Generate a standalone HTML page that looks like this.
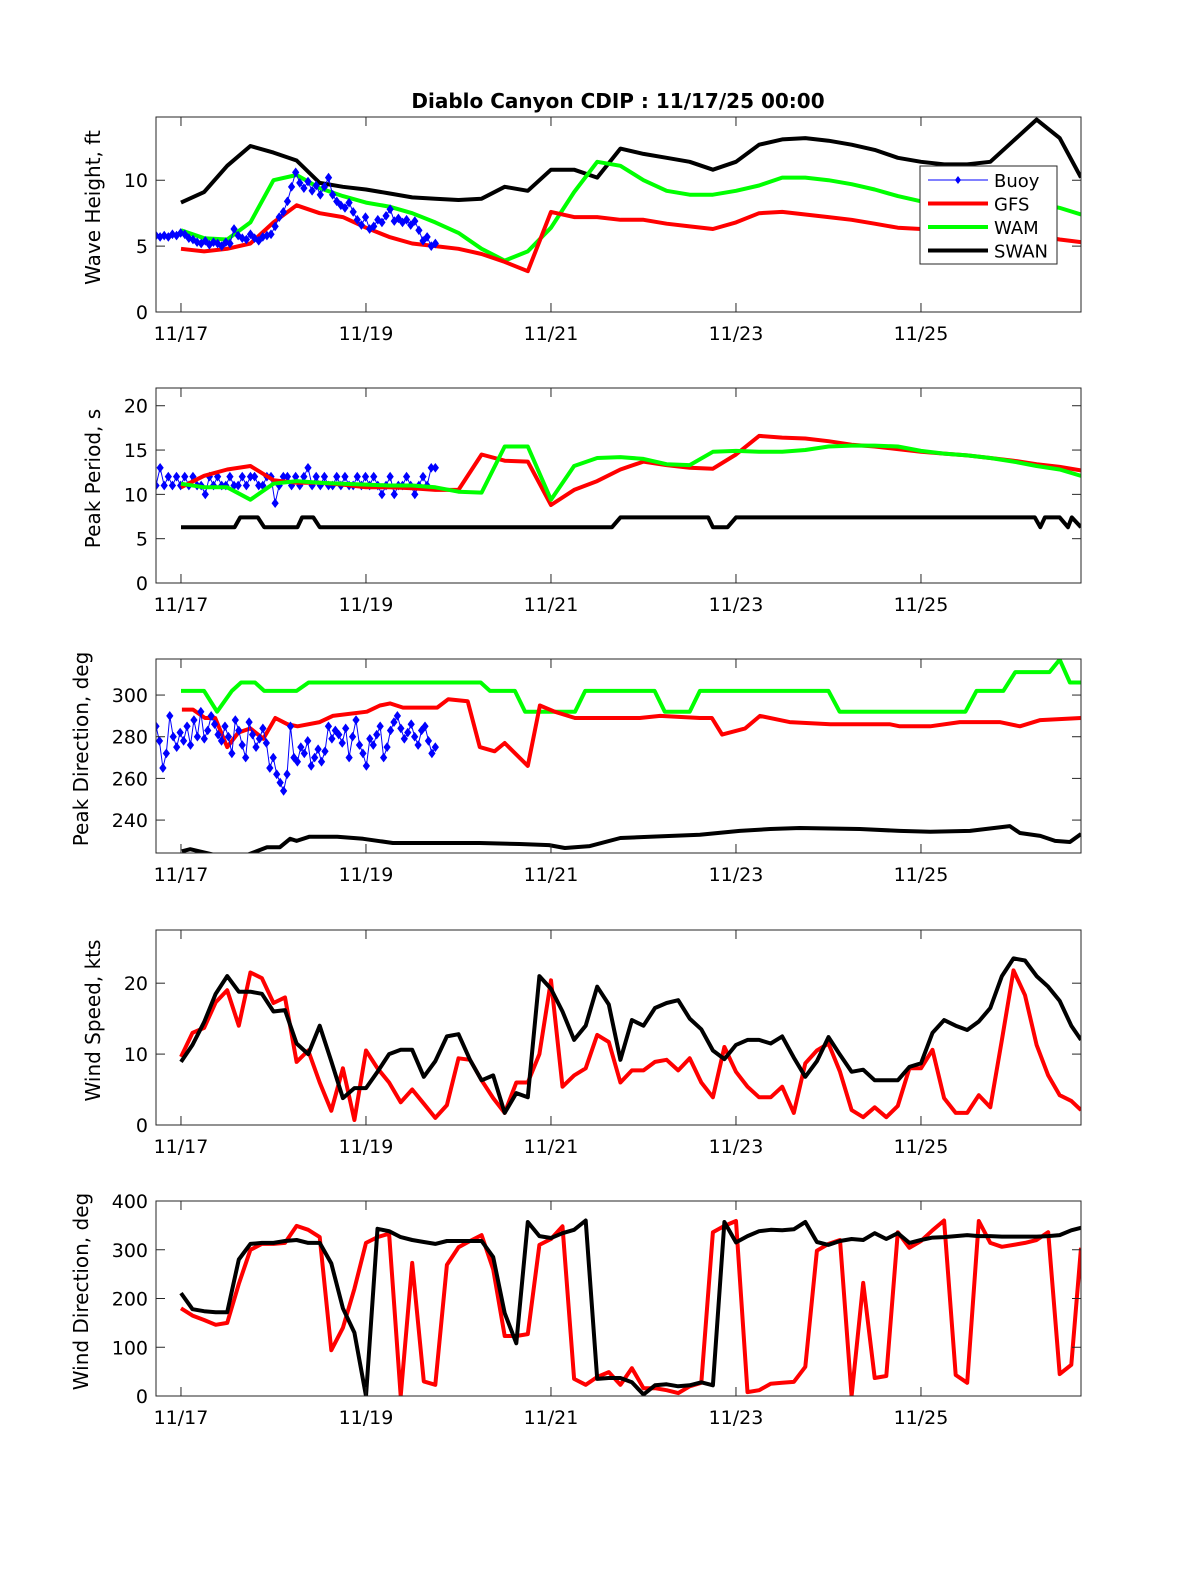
<!DOCTYPE html>
<html><head><meta charset="utf-8"><style>
html,body{margin:0;padding:0;background:#fff}
svg{display:block}
text{font-family:"DejaVu Sans","Liberation Sans",sans-serif;fill:#000}
</style></head><body>
<svg id="chart" width="1200" height="1575" viewBox="0 0 1200 1575" xmlns="http://www.w3.org/2000/svg">
<rect x="0" y="0" width="1200" height="1575" fill="#fff"/>
<text x="618" y="108" text-anchor="middle" font-size="20" font-weight="bold">Diablo Canyon CDIP : 11/17/25 00:00</text>
</svg>
<script>
// ---- data (days since 11/17 00:00) ----
const xTickDays = [0, 2, 4, 6, 8];
const xTickLabels = ['11/17', '11/19', '11/21', '11/23', '11/25'];

// wave height, ft (6-hourly)
const hsSwan = [8.3,9.1,11.1,12.6,12.1,11.5,9.8,9.5,9.3,9.0,8.7,8.6,8.5,8.6,9.5,9.2,10.8,10.8,10.2,12.4,12.0,11.7,11.4,10.8,11.4,12.7,13.1,13.2,13.0,12.7,12.3,11.7,11.4,11.2,11.2,11.4,13.0,14.6,13.2,10.2];
const hsWam = [6.2,5.6,5.5,6.8,10.0,10.4,9.4,8.8,8.3,8.0,7.5,6.8,6.0,4.8,3.9,4.6,6.4,9.1,11.4,11.1,10.0,9.2,8.9,8.9,9.2,9.6,10.2,10.2,10.0,9.7,9.3,8.8,8.4,8.2,8.1,8.1,8.2,8.3,7.9,7.4];
const hsGfs = [4.8,4.6,4.8,5.2,6.8,8.1,7.5,7.2,6.4,5.7,5.2,5.0,4.8,4.4,3.8,3.1,7.6,7.2,7.2,7.0,7.0,6.7,6.5,6.3,6.8,7.5,7.6,7.4,7.2,7.0,6.7,6.4,6.3,6.1,6.0,6.0,5.9,5.8,5.5,5.3];
const hsBuoy = [5.8,5.7,5.8,5.7,5.9,5.8,6.0,5.9,5.6,5.5,5.3,5.2,5.4,5.1,5.3,5.2,5.0,5.3,5.2,6.3,5.8,5.6,5.5,5.9,5.6,5.4,5.7,5.8,5.9,6.5,7.2,7.6,8.4,9.5,10.6,9.8,9.4,9.9,9.2,9.6,8.9,9.5,10.2,8.9,8.4,8.1,7.9,8.3,7.6,7.0,6.6,7.2,6.3,6.5,7.0,6.8,7.3,7.8,6.9,7.1,6.8,7.0,6.6,6.9,6.2,5.4,5.7,5.0,5.2];

// peak period, s
const tpGfs = [10.8,12.1,12.8,13.2,11.6,11.3,11.3,11.1,10.8,10.8,10.7,10.5,10.5,14.5,13.8,13.7,8.8,10.5,11.5,12.8,13.7,13.3,13.0,12.9,14.5,16.6,16.4,16.3,16.0,15.6,15.4,15.1,14.8,14.6,14.4,14.1,13.8,13.4,13.1,12.7];
const tpWam = [11.2,10.8,10.8,9.4,11.2,11.5,11.3,11.2,11.1,11.0,11.0,10.8,10.3,10.2,15.4,15.4,9.4,13.2,14.1,14.2,14.0,13.4,13.3,14.8,14.9,14.8,14.8,15.0,15.4,15.5,15.5,15.4,14.9,14.6,14.4,14.1,13.7,13.2,12.8,12.1];
const tpSwanDays = [0,0.58,0.64,0.83,0.9,1.26,1.31,1.43,1.5,4.66,4.75,5.7,5.75,5.91,6.0,9.23,9.29,9.34,9.5,9.59,9.63,9.73];
const tpSwan = [6.3,6.3,7.4,7.4,6.3,6.3,7.4,7.4,6.3,6.3,7.4,7.4,6.3,6.3,7.4,7.4,6.3,7.4,7.4,6.3,7.4,6.3];
const tpBuoy = [11,13,11,12,11,12,11,12,11,12,11,11,10,12,11,12,11,11,12,11,11,12,11,12,12,11,11,12,12,9,11,12,12,11,12,11,12,13,11,12,11,12,11,11,12,11,12,11,11,12,11,12,11,12,11,10,11,12,10,11,11,12,11,10,11,12,11,13,13];

// peak direction, deg
const dpWamDays = [0,0.25,0.39,0.55,0.65,0.8,0.9,1.25,1.38,3.24,3.34,3.61,3.72,4.26,4.37,5.12,5.23,5.5,5.61,7.0,7.12,8.48,8.6,8.89,9.02,9.39,9.5,9.61,9.73];
const dpWam = [302,302,292,302,306,306,302,302,306,306,302,302,292,292,302,302,292,292,302,302,292,292,302,302,311,311,317,306,306];
const dpGfsDays = [0.01,0.13,0.26,0.37,0.5,0.62,0.75,0.89,1.02,1.15,1.26,1.5,1.64,2.01,2.15,2.26,2.4,2.77,2.89,3.1,3.23,3.39,3.5,3.75,3.88,4.04,4.26,4.53,4.96,5.18,5.61,5.74,5.85,6.1,6.26,6.58,7.02,7.66,7.77,8.1,8.42,8.85,9.07,9.29,9.73];
const dpGfs = [293,293,289,289,275,282,284,279,289,286,285,287,290,292,295,296,294,294,298,297,275,273,277,266,295,292,289,289,289,290,289,289,281,284,290,287,286,286,285,285,287,287,285,288,289];
const dpSwanDays = [0.01,0.1,0.39,0.64,0.93,1.07,1.18,1.25,1.39,1.69,1.97,2.29,2.62,3.23,3.66,3.98,4.15,4.42,4.75,5.07,5.61,6.04,6.37,6.69,7.34,7.77,8.1,8.53,8.96,9.07,9.29,9.45,9.61,9.73];
const dpSwan = [225,226,223,222,227,227,231,230,232,232,231,229,229,229,228.5,228,226.6,227.5,231.4,232,233,234.8,235.7,236.2,235.7,234.8,234.4,234.8,237.1,233.8,232.4,230,229.5,233.3];
const dpBuoy = [285,278,265,272,290,280,275,282,278,285,276,288,280,292,279,283,290,286,281,278,285,280,272,288,283,276,270,287,281,275,279,284,277,265,270,262,258,254,262,285,270,268,275,272,278,266,270,274,268,273,285,279,283,281,277,284,270,280,288,276,272,266,279,276,281,285,270,275,283,287,290,284,279,282,286,280,276,283,285,278,272,275];

// wind speed, kts (3-hourly)
const wsGfs = [9.6,13,13.7,17.3,19,14,21.5,20.7,17.2,18,8.9,10.5,6,2,8,0.7,10.5,8,6,3.2,5,3,1,2.8,9.4,9.2,6.3,3.8,1.7,6,6,10,20.4,5.4,7,8,12.7,11.7,6,7.7,7.7,8.9,9.2,7.7,9.4,6,3.9,11,7.5,5.4,3.9,3.9,5.4,1.7,8.7,10.5,11.5,7.5,2.1,1.1,2.5,1.1,2.7,8,8,10.6,3.8,1.7,1.7,4.2,2.5,12,21.8,18.3,11.3,7,4.2,3.4,2.1];
const wsSwan = [8.9,11.3,14.5,18.5,21,18.8,18.8,18.5,16,16.2,11.5,10,14,9,3.8,5.2,5.2,7.5,10,10.6,10.6,6.8,9,12.5,12.8,9.2,6.3,7,1.7,4.5,3.9,21,19.2,16,12,14,19.5,17,9.2,14.8,14,16.5,17.2,17.6,15,13.5,10.5,9.3,11.3,12,12,11.5,12.5,9.5,6.8,9,12.4,9.9,7.5,7.8,6.3,6.3,6.3,8.2,8.7,13,14.8,14,13.4,14.6,16.5,21,23.5,23.2,21,19.5,17.5,14,12];

// wind direction, deg (3-hourly)
const wdGfs = [180,165,156,146,150,230,300,312,312,314,349,341,326,94,140,220,314,326,333,0,273,30,23,269,305,318,330,260,123,123,127,310,322,348,35,23,39,49,23,57,16,16,12,6,20,27,336,349,359,8,12,25,27,29,60,298,312,320,0,232,37,41,336,304,318,340,360,43,27,359,314,306,310,314,320,336,45,64,304];
const wdSwan = [211,178,174,172,172,280,312,314,314,318,320,314,314,272,180,130,0,343,338,326,320,316,312,318,318,318,318,285,170,108,357,328,324,334,341,360,35,37,37,28,3,22,24,20,22,28,22,357,315,328,338,341,340,342,357,316,310,318,322,320,334,322,334,314,320,325,326,328,330,328,328,327,327,327,327,328,330,340,345];

// ---- layout ----
const NS = 'http://www.w3.org/2000/svg';
const svg = document.getElementById('chart');
const X0 = 156, X1 = 1081, DAY0 = -0.27, DAY1 = 9.73;
function xs(d){ return X0 + (d - DAY0) / (DAY1 - DAY0) * (X1 - X0); }
function grid(n, step, last){ const a=[]; for(let i=0;i<n;i++) a.push(Math.min(i*step,last)); return a; }
function buoyDays(n){ const a=[]; const s=-0.27, e=2.75; for(let i=0;i<n;i++) a.push(s+(e-s)*i/(n-1)); return a; }

function el(tag, attrs, parent){
  const e = document.createElementNS(NS, tag);
  for (const k in attrs) e.setAttribute(k, attrs[k]);
  (parent||svg).appendChild(e);
  return e;
}

const panels = [
  {key:'wave-height', top:117, bottom:312, min:0, max:14.8, ticks:[0,5,10], label:'Wave Height, ft', lx:100},
  {key:'peak-period', top:388, bottom:583, min:0, max:22, ticks:[0,5,10,15,20], label:'Peak Period, s', lx:100},
  {key:'peak-direction', top:659, bottom:853, min:224.2, max:317.3, ticks:[240,260,280,300], label:'Peak Direction, deg', lx:88},
  {key:'wind-speed', top:930, bottom:1125, min:0, max:27.5, ticks:[0,10,20], label:'Wind Speed, kts', lx:100},
  {key:'wind-direction', top:1201, bottom:1396, min:0, max:400, ticks:[0,100,200,300,400], label:'Wind Direction, deg', lx:88}
];

function ysFor(p){ return v => p.bottom - (v - p.min) / (p.max - p.min) * (p.bottom - p.top); }

function drawLine(p, g, days, vals, color, width, name){
  const ys = ysFor(p);
  const pts = days.map((d,i)=> xs(d).toFixed(1)+','+ys(vals[i]).toFixed(1)).join(' ');
  const pl = el('polyline', {points:pts, fill:'none', stroke:color, 'stroke-width':width, 'stroke-linejoin':'round'}, g);
  
  
}
function drawBuoy(p, g, vals, name){
  const days = buoyDays(vals.length);
  drawLine(p, g, days, vals, '#0000ff', 1, name + '-line');
  const ys = ysFor(p);
  days.forEach((d,i)=>{
    const cx = xs(d), cy = ys(vals[i]);
    const m = el('path', {d:`M${cx},${cy-4}L${cx+3},${cy}L${cx},${cy+4}L${cx-3},${cy}Z`, fill:'#0000ff', stroke:'#0000ff', 'stroke-width':1}, g);
    
    
  });
}

const t6 = grid(40, 0.25, 9.73);
const t3 = grid(79, 0.125, 9.73);

panels.forEach((p, idx)=>{
  const g = el('g', {});
  
  
  const clipId = 'clip' + idx;
  const cp = el('clipPath', {id:clipId}, g);
  el('rect', {x:X0, y:p.top, width:X1-X0, height:p.bottom-p.top}, cp);
  const bg = el('rect', {x:X0, y:p.top, width:X1-X0, height:p.bottom-p.top, fill:'#fff'}, g);
  
  
  const series = el('g', {'clip-path':`url(#${clipId})`}, g);
  
  

  if (idx === 0){
    drawLine(p, series, t6, hsSwan, '#000', 4, 'swan-wave-height');
    drawLine(p, series, t6, hsWam, '#00ff00', 4, 'wam-wave-height');
    drawLine(p, series, t6, hsGfs, '#ff0000', 4, 'gfs-wave-height');
    drawBuoy(p, series, hsBuoy, 'buoy-wave-height');
  } else if (idx === 1){
    drawBuoy(p, series, tpBuoy, 'buoy-peak-period');
    drawLine(p, series, tpSwanDays, tpSwan, '#000', 4, 'swan-peak-period');
    drawLine(p, series, t6, tpGfs, '#ff0000', 4, 'gfs-peak-period');
    drawLine(p, series, t6, tpWam, '#00ff00', 4, 'wam-peak-period');
  } else if (idx === 2){
    drawLine(p, series, dpWamDays, dpWam, '#00ff00', 4, 'wam-peak-direction');
    drawLine(p, series, dpGfsDays, dpGfs, '#ff0000', 4, 'gfs-peak-direction');
    drawLine(p, series, dpSwanDays, dpSwan, '#000', 4, 'swan-peak-direction');
    drawBuoy(p, series, dpBuoy, 'buoy-peak-direction');
  } else if (idx === 3){
    drawLine(p, series, t3, wsGfs, '#ff0000', 4, 'gfs-wind-speed');
    drawLine(p, series, t3, wsSwan, '#000', 4, 'swan-wind-speed');
  } else {
    drawLine(p, series, t3, wdGfs, '#ff0000', 4, 'gfs-wind-direction');
    drawLine(p, series, t3, wdSwan, '#000', 4, 'swan-wind-direction');
  }

  const box = el('rect', {x:X0, y:p.top, width:X1-X0, height:p.bottom-p.top, fill:'none', stroke:'#262626', 'stroke-width':1}, g);
  
  

  const ys = ysFor(p);
  xTickDays.forEach((d,i)=>{
    const x = xs(d);
    const t1 = el('line', {x1:x, y1:p.bottom, x2:x, y2:p.bottom-9, stroke:'#262626', 'stroke-width':1}, g);
    
    
    const t2 = el('line', {x1:x, y1:p.top, x2:x, y2:p.top+9, stroke:'#262626', 'stroke-width':1}, g);
    
    
    const lab = el('text', {x:x, y:p.bottom+28, 'text-anchor':'middle', 'font-size':19}, g);
    lab.textContent = xTickLabels[i];
    
    
  });
  p.ticks.forEach(v=>{
    const y = ys(v);
    const t1 = el('line', {x1:X0, y1:y, x2:X0+9, y2:y, stroke:'#262626', 'stroke-width':1}, g);
    
    
    const t2 = el('line', {x1:X1, y1:y, x2:X1-9, y2:y, stroke:'#262626', 'stroke-width':1}, g);
    
    
    const lab = el('text', {x:X0-8, y:y+7, 'text-anchor':'end', 'font-size':19}, g);
    lab.textContent = String(v);
    
    
  });
  const cy = (p.top + p.bottom)/2;
  const yl = el('text', {x:p.lx+7, y:cy, 'text-anchor':'middle', 'font-size':20, transform:`rotate(-90 ${p.lx} ${cy})`}, g);
  yl.textContent = p.label;
  
  
});

// legend
const legendNames = ['Buoy', 'GFS', 'WAM', 'SWAN'];
const legendColors = ['#0000ff', '#ff0000', '#00ff00', '#000'];
const lg = el('g', {});


const lbox = el('rect', {x:920, y:166, width:137, height:98, fill:'#fff', stroke:'#262626', 'stroke-width':1}, lg);


legendNames.forEach((n,i)=>{
  const y = 180 + i*23.5;
  const ln = el('line', {x1:928, y1:y, x2:988, y2:y, stroke:legendColors[i], 'stroke-width': i===0?1:4}, lg);
  
  
  if (i===0){
    const mk = el('path', {d:`M958,${y-4}L961,${y}L958,${y+4}L955,${y}Z`, fill:'#0000ff'}, lg);
    
    
  }
  const tx = el('text', {x:994, y:y+7, 'font-size':18}, lg);
  tx.textContent = n;
  
  
});
</script>
</body></html>
